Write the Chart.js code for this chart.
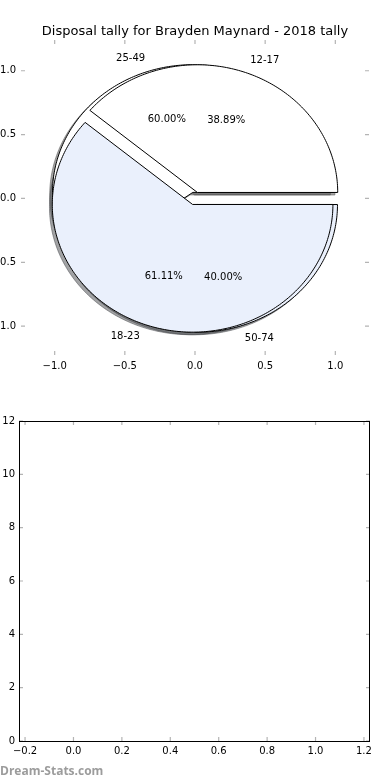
<!DOCTYPE html>
<html>
<head>
<meta charset="utf-8">
<script src="https://cdn.jsdelivr.net/npm/chart.js@4.4.1/dist/chart.umd.min.js"></script>
<style>
  html, body { margin: 0; padding: 0; background: #fff; }
  #wrap { position: relative; width: 390px; height: 780px; overflow: hidden; }
  canvas { position: absolute; left: 0; }
  #pie { top: 0; }
  #empty { top: 390px; }
</style>
</head>
<body>
<div id="wrap">
  <canvas id="pie" width="390" height="390"></canvas>
  <canvas id="empty" width="390" height="390"></canvas>
</div>
<script>
const pieTitle = 'Disposal tally for Brayden Maynard - 2018 tally';
const firstLabels = ['12-17', '18-23'];
const firstValues = [7, 11];
const secondLabels = ['25-49', '50-74'];
const secondValues = [3, 2];
const pieTicks = [-1.0, -0.5, 0.0, 0.5, 1.0];
const emptyXTicks = [-0.2, 0.0, 0.2, 0.4, 0.6, 0.8, 1.0, 1.2];
const emptyYTicks = [0, 2, 4, 6, 8, 10, 12];
const watermark = 'Dream-Stats.com';

const sliceColors = ['#ffffff', '#eaf0fc'];
const explode = 0.05;
const font = { family: 'DejaVu Sans', size: 10 };

// fractions of the circle, counter-clockwise from 3 o'clock
function slices(values) {
  const total = values.reduce((a, b) => a + b, 0);
  let start = 0;
  return values.map(v => {
    const s = { t1: start, t2: start + v / total, frac: v / total };
    start = s.t2;
    return s;
  });
}

function wedge(ctx, sx, sy, cx, cy, t1, t2) {
  ctx.beginPath();
  ctx.moveTo(sx.getPixelForValue(cx), sy.getPixelForValue(cy));
  const n = Math.ceil((t2 - t1) * 360);
  for (let i = 0; i <= n; i++) {
    const a = 2 * Math.PI * (t1 + (t2 - t1) * i / n);
    ctx.lineTo(sx.getPixelForValue(cx + Math.cos(a)), sy.getPixelForValue(cy + Math.sin(a)));
  }
  ctx.closePath();
}

function shade(hex) {
  const n = parseInt(hex.slice(1), 16);
  const r = Math.round(0.3 * (n >> 16)), g = Math.round(0.3 * ((n >> 8) & 255)), b = Math.round(0.3 * (n & 255));
  return 'rgba(' + r + ',' + g + ',' + b + ',0.5)';
}

const piePlugin = {
  id: 'pie',
  afterDatasetsDraw(chart) {
    const { ctx, scales: { x, y } } = chart;
    // second pie sits underneath the first one
    const pies = [
      { labels: secondLabels, values: secondValues },
      { labels: firstLabels, values: firstValues }
    ].map(p => ({ labels: p.labels, parts: slices(p.values) }));
    ctx.save();
    ctx.lineWidth = 1;
    ctx.lineJoin = 'miter';
    pies.forEach(p => p.parts.forEach((s, i) => {
      const m = Math.PI * (s.t1 + s.t2);
      const c = shade(sliceColors[i]);
      wedge(ctx, x, y, explode * Math.cos(m) - 0.02, explode * Math.sin(m) - 0.02, s.t1, s.t2);
      ctx.fillStyle = c;
      ctx.strokeStyle = c;
      ctx.fill();
      ctx.stroke();
    }));
    pies.forEach(p => p.parts.forEach((s, i) => {
      const m = Math.PI * (s.t1 + s.t2);
      wedge(ctx, x, y, explode * Math.cos(m), explode * Math.sin(m), s.t1, s.t2);
      ctx.fillStyle = sliceColors[i];
      ctx.strokeStyle = '#000';
      ctx.fill();
      ctx.stroke();
    }));
    ctx.fillStyle = '#000';
    ctx.font = '10px "DejaVu Sans"';
    ctx.textBaseline = 'middle';
    pies.forEach(p => p.parts.forEach((s, i) => {
      const m = Math.PI * (s.t1 + s.t2);
      const cx = explode * Math.cos(m), cy = explode * Math.sin(m);
      const lx = cx + 1.1 * Math.cos(m);
      ctx.textAlign = lx > 0 ? 'left' : 'right';
      ctx.fillText(p.labels[i], x.getPixelForValue(lx), y.getPixelForValue(cy + 1.1 * Math.sin(m)));
      ctx.textAlign = 'center';
      ctx.fillText((s.frac * 100).toFixed(2) + '%',
        x.getPixelForValue(cx + 0.6 * Math.cos(m)), y.getPixelForValue(cy + 0.6 * Math.sin(m)));
    }));
    ctx.restore();
  }
};

// matplotlib style: short grey ticks pointing inwards on all four sides
const innerTicks = {
  id: 'innerTicks',
  afterDraw(chart, args, opts) {
    const { ctx, chartArea: a, scales: { x, y } } = chart;
    ctx.save();
    ctx.strokeStyle = '#b4b4b4';
    ctx.lineWidth = 1.2;
    ctx.beginPath();
    x.ticks.forEach(t => {
      const p = x.getPixelForValue(t.value);
      ctx.moveTo(p, a.top); ctx.lineTo(p, a.top + 4);
      ctx.moveTo(p, a.bottom); ctx.lineTo(p, a.bottom - 4);
    });
    y.ticks.forEach(t => {
      const p = y.getPixelForValue(t.value);
      ctx.moveTo(a.left, p); ctx.lineTo(a.left + 4, p);
      ctx.moveTo(a.right, p); ctx.lineTo(a.right - 4, p);
    });
    ctx.stroke();
    if (opts.frame) {
      ctx.strokeStyle = '#000';
      ctx.lineWidth = 1;
      ctx.strokeRect(a.left + 0.5, a.top + 0.5, a.right - a.left - 1, a.bottom - a.top);
    }
    if (opts.mark) {
      ctx.fillStyle = '#9c9c9c';
      ctx.font = 'bold 12px "Open Sans"';
      ctx.textAlign = 'left';
      ctx.textBaseline = 'alphabetic';
      ctx.fillText(opts.mark, 0, chart.height - 5.5);
    }
    ctx.restore();
  }
};

const minus = s => s.replace('-', '\u2212');

function axis(min, max, tickValues, fmt, pad, fit) {
  return {
    type: 'linear',
    min: min,
    max: max,
    afterBuildTicks: s => { s.ticks = tickValues.map(v => ({ value: v })); },
    afterFit: fit,
    grid: { display: false, drawTicks: false },
    border: { display: false },
    ticks: { autoSkip: false, maxRotation: 0, padding: pad, color: '#000', font: font, callback: fmt }
  };
}

new Chart(document.getElementById('pie'), {
  type: 'scatter',
  data: { datasets: [] },
  options: {
    responsive: false,
    animation: false,
    layout: { padding: 0 },
    scales: {
      x: axis(-1.24, 1.24, pieTicks, v => minus(v.toFixed(1)), 5, s => { s.height = 35; }),
      y: axis(-1.226, 1.241, pieTicks, v => minus(v.toFixed(1)), 5, s => { s.width = 21; }),
      // empty right strip, same width as the left axis, so the title stays centred
      right: {
        type: 'linear',
        position: 'right',
        ticks: { display: false },
        grid: { display: false, drawTicks: false },
        border: { display: false },
        afterFit: s => { s.width = 21; }
      }
    },
    plugins: {
      legend: { display: false },
      tooltip: { enabled: false },
      title: {
        display: true,
        text: pieTitle,
        color: '#000',
        font: { family: 'DejaVu Sans', size: 13, weight: 'normal' },
        padding: { top: 23.5, bottom: 0.9 }
      },
      innerTicks: { frame: false }
    }
  },
  plugins: [piePlugin, innerTicks]
});

new Chart(document.getElementById('empty'), {
  type: 'scatter',
  data: { datasets: [] },
  options: {
    responsive: false,
    animation: false,
    layout: { padding: { left: 0, right: 20, top: 31, bottom: 0 } },
    scales: {
      x: axis(-0.225, 1.225, emptyXTicks, v => minus(v.toFixed(1)), 4.5, s => { s.height = 39; }),
      y: axis(0, 12, emptyYTicks, v => String(v), 4, s => { s.width = 19; })
    },
    plugins: {
      legend: { display: false },
      tooltip: { enabled: false },
      innerTicks: { frame: true, mark: watermark }
    }
  },
  plugins: [innerTicks]
});
</script>
</body>
</html>
